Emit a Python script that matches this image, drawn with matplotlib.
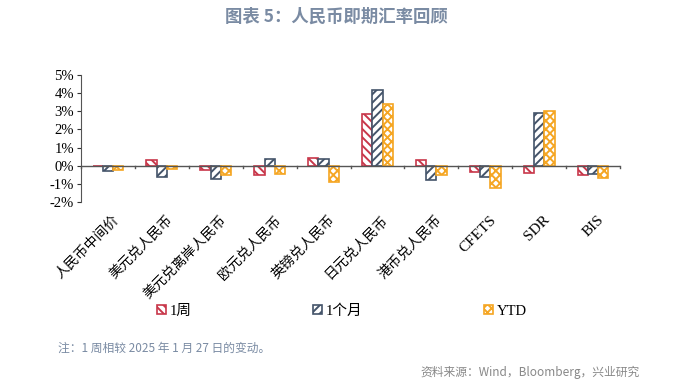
import numpy as np
import matplotlib.pyplot as plt
from matplotlib.ticker import FuncFormatter

plt.rcParams['font.family'] = ['Liberation Serif', 'Noto Sans CJK SC', 'DejaVu Sans']
plt.rcParams['hatch.linewidth'] = 1.4

# 数据
categories = ["人民币中间价", "美元兑人民币", "美元兑离岸人民币", "欧元兑人民币", "英镑兑人民币",
              "日元兑人民币", "港币兑人民币", "CFETS", "SDR", "BIS"]
week_1 = [0.0, 0.33, -0.26, -0.50, 0.44, 2.84, 0.31, -0.33, -0.40, -0.53]
month_1 = [-0.30, -0.63, -0.72, 0.35, 0.37, 4.20, -0.77, -0.60, 2.93, -0.48]
ytd = [-0.25, -0.17, -0.50, -0.44, -0.90, 3.40, -0.50, -1.22, 3.00, -0.70]
series_names = ["1周", "1个月", "YTD"]

colors = ["#C8374A", "#44546A", "#F5A623"]
hatches = ["\\\\\\\\", "////", "xxxx"]

fig = plt.figure(figsize=(6.83, 3.85), dpi=100)
ax = fig.add_axes([81 / 683, 1 - 202 / 385, 539 / 683, 127 / 385])

x = np.arange(len(categories))
w = 0.19
handles = []
for i, (vals, name) in enumerate(zip([week_1, month_1, ytd], series_names)):
    b = ax.bar(x + (i - 1) * w, np.array(vals) / 100, width=w, color="white",
               edgecolor=colors[i], hatch=hatches[i], linewidth=1.2, label=name)
    handles.append(b)

ax.set_xlim(-0.5, len(categories) - 0.5)
ax.set_ylim(-0.02, 0.05)
ax.set_yticks(np.arange(-0.02, 0.051, 0.01))
ax.yaxis.set_major_formatter(FuncFormatter(lambda v, p: f"{v * 100:.0f}%"))
ax.tick_params(axis="y", labelsize=10.5, length=3, width=0.8, color="#333333", pad=2)

for s in ["top", "right", "bottom"]:
    ax.spines[s].set_visible(False)
ax.spines["left"].set_color("#555555")

# 零线和分隔刻度
ax.axhline(0, color="#555555", lw=1.0, zorder=3)
for b in np.arange(-0.5, len(categories), 1.0):
    ax.plot([b, b], [0, -0.0015], color="#555555", lw=1.0, clip_on=False, zorder=3)

ax.set_xticks(x)
ax.set_xticklabels([])
ax.tick_params(axis="x", length=0)
for xi, lab in zip(x, categories):
    fs = 11 if lab.isascii() else 10
    ax.annotate(lab, xy=(xi, -0.02), xytext=(3, -8), textcoords="offset points",
                rotation=45, ha="right", va="top", rotation_mode="anchor",
                fontsize=fs, annotation_clip=False)

fig.legend(handles=handles, labels=series_names, loc="center",
           bbox_to_anchor=(342 / 683, 1 - 311 / 385), ncol=3, frameon=False,
           fontsize=10.5, handlelength=0.6, handleheight=0.6, handletextpad=0.3,
           columnspacing=8.3)

fig.text(336 / 683, 1 - 17 / 385, "图表 5：人民币即期汇率回顾", ha="center", va="center",
         fontsize=12.5, fontweight="bold", color="#7A8BA3", family=["Noto Sans CJK SC"])
fig.text(58 / 683, 1 - 348 / 385, "注：1 周相较 2025 年 1 月 27 日的变动。", ha="left", va="center",
         fontsize=8.5, color="#7A8BA3", family=["Noto Sans CJK SC"])
fig.text(640 / 683, 1 - 372 / 385, "资料来源：Wind，Bloomberg，兴业研究", ha="right", va="center",
         fontsize=8.5, color="#888888", family=["Noto Sans CJK SC"])

plt.savefig("out.png", dpi=100)
